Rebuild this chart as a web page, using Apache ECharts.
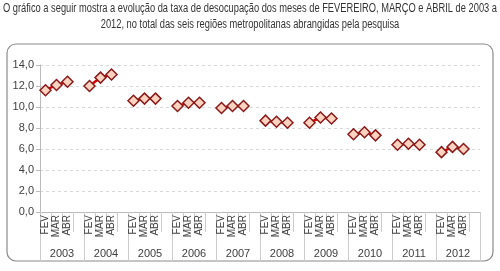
<!DOCTYPE html>
<html><head><meta charset="utf-8">
<script src="https://cdn.jsdelivr.net/npm/echarts@6/dist/echarts.min.js"></script>
<style>html,body{margin:0;padding:0;background:#fff}#c{width:500px;height:271px}</style>
</head><body><div id="c"></div>
<script>
var years = ['2003','2004','2005','2006','2007','2008','2009','2010','2011','2012'];
var months = ['FEV','MAR','ABR'];
var fev = [11.6, 12.0, 10.6, 10.1, 9.9, 8.7, 8.5, 7.4, 6.4, 5.7];
var mar = [12.1, 12.8, 10.8, 10.4, 10.1, 8.6, 9.0, 7.6, 6.5, 6.2];
var abr = [12.4, 13.1, 10.8, 10.4, 10.1, 8.5, 8.9, 7.3, 6.4, 6.0];
var yTicks = ['0,0','2,0','4,0','6,0','8,0','10,0','12,0','14,0'];
var title1 = 'O gráfico a seguir mostra a evolução da taxa de desocupação dos meses de FEVEREIRO, MARÇO e ABRIL de 2003 a';
var title2 = '2012, no total das seis regiões metropolitanas abrangidas pela pesquisa';

var cats = [], vals = [];
years.forEach(function(y, i){
  cats.push('FEV'); vals.push(fev[i]);
  cats.push('MAR'); vals.push(mar[i]);
  cats.push('ABR'); vals.push(abr[i]);
  cats.push(' '); vals.push(null);
});

var fontT = '12px "Liberation Sans"';
var cv = document.createElement('canvas').getContext('2d');
cv.font = fontT;
var w1 = cv.measureText(title1).width;
var sx = 494 / w1;

var chart = echarts.init(document.getElementById('c'), null, {renderer:'canvas'});
chart.setOption({
  animation:false,
  graphic:[
    {type:'rect', shape:{x:7, y:44, width:486, height:217, r:9}, style:{fill:'none', stroke:'#8a8a8a', lineWidth:1.2}, z:-1},
    {type:'text', x:250, y:3, scaleX:sx, style:{text:title1, font:fontT, fill:'#333', textAlign:'center', textVerticalAlign:'top'}},
    {type:'text', x:250, y:19, scaleX:sx, style:{text:title2, font:fontT, fill:'#333', textAlign:'center', textVerticalAlign:'top'}}
  ],
  grid:{left:40, right:20, top:65, bottom:59},
  xAxis:[
    {type:'category', data:cats, boundaryGap:true, position:'bottom',
     axisLine:{lineStyle:{color:'#bbb'}},
     axisTick:{show:true, interval:0, length:20, lineStyle:{color:'#ccc'}},
     axisLabel:{interval:0, rotate:90, fontSize:10, color:'#404040', margin:3, fontFamily:'Liberation Sans'}},
    {type:'category', data:years, boundaryGap:true, position:'bottom',
     axisLine:{show:false},
     axisTick:{show:true, interval:0, length:50, lineStyle:{color:'#ccc'}},
     axisLabel:{interval:0, fontSize:11, color:'#404040', margin:36, fontFamily:'Liberation Sans'}}
  ],
  yAxis:{type:'value', min:0, max:14, interval:2,
    axisLine:{show:true, lineStyle:{color:'#bbb'}},
    axisTick:{show:true, length:4, lineStyle:{color:'#bbb'}},
    splitLine:{lineStyle:{type:[3,3], color:'#d8d8d8'}},
    axisLabel:{color:'#404040', fontSize:11, margin:6, fontFamily:'Liberation Sans',
      formatter:function(v){ return yTicks[Math.round(v/2)]; }}},
  series:[{type:'line', data:vals, xAxisIndex:0, connectNulls:false,
    lineStyle:{color:'#e00000', width:2.5},
    symbol:'diamond', symbolSize:11,
    itemStyle:{color:'#fcd2c0', borderColor:'#8b1a1a', borderWidth:1.5}}]
});
</script></body></html>
